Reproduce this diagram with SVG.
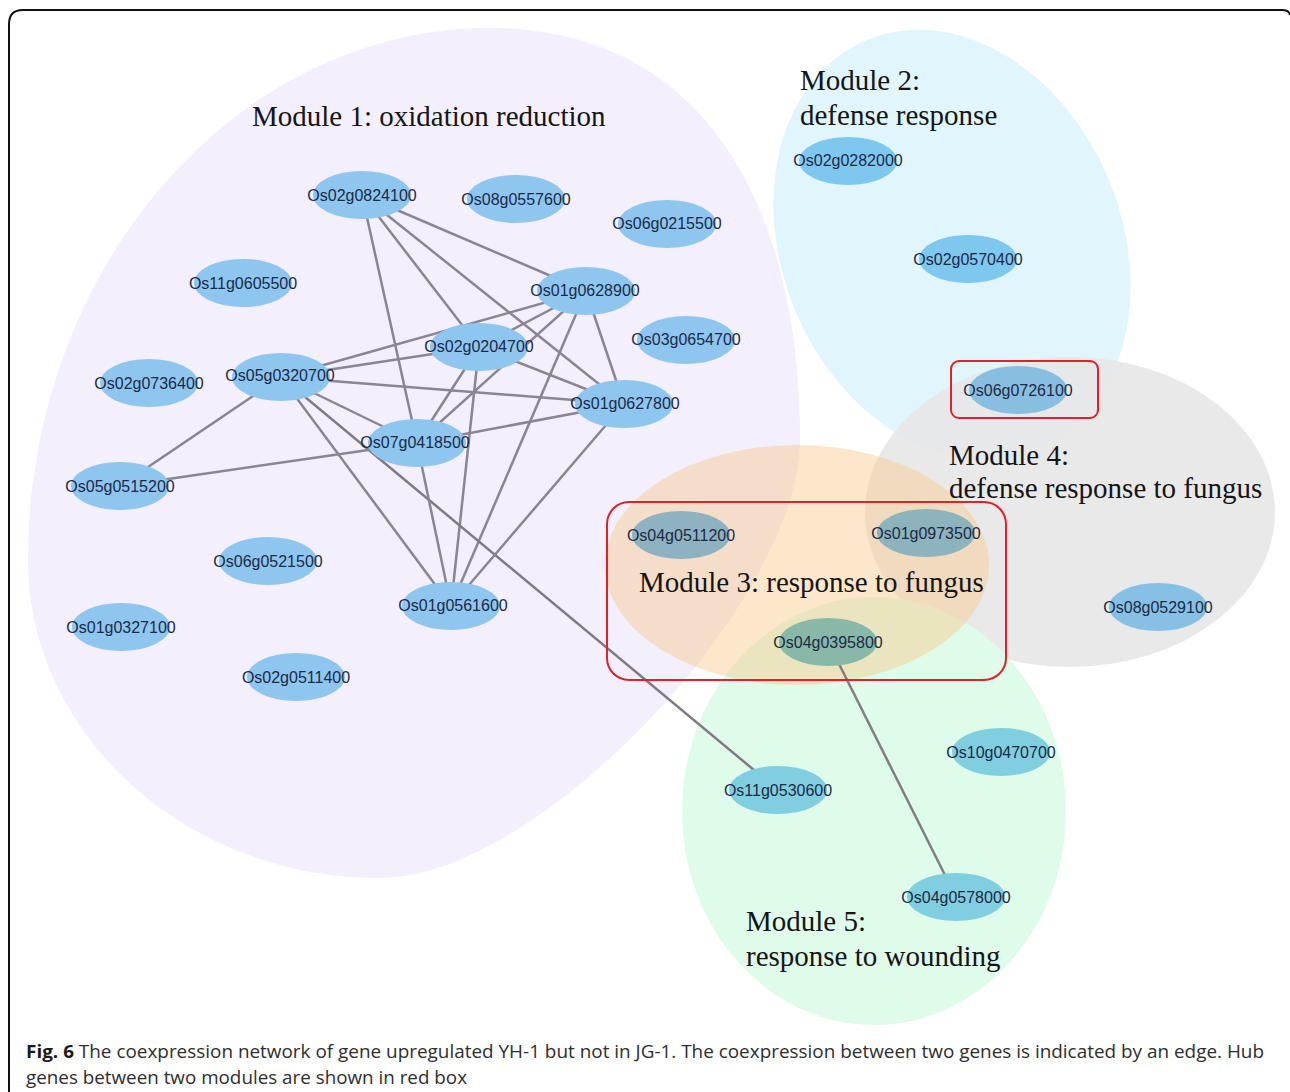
<svg xmlns="http://www.w3.org/2000/svg" width="1290" height="1092" viewBox="0 0 1290 1092">
<style>
.node ellipse{stroke:none}
.node text{font-family:"Liberation Sans",Arial,sans-serif;font-size:16px;fill:#1b2a47;text-anchor:middle}
.m1 ellipse{fill:#8ec6f0}
.m2 ellipse{fill:#7ec8ef}
.m5 ellipse{fill:#80cfe0}
.edge{stroke:#8b8592;stroke-width:2.5;fill:none}
.mlabel{font-family:"Liberation Serif","Times New Roman",serif;font-size:29px;fill:#151515}
.hub{fill:none;stroke:#e0202a;stroke-width:2}
.cap{font-family:"Open Sans","Liberation Sans",sans-serif;font-size:18px;fill:#2e2e2e}
</style>
<rect width="1290" height="1092" fill="#ffffff"/>

<g id="modules">
<path id="module1-area" d="M490,28 C700,28 800,200 800,440 C800,600 540,878 380,878 C186,878 28,735 28,560 C28,267 236,28 490,28 Z" fill="#f3effc"/>
<ellipse id="module2-area" cx="952" cy="245" rx="170" ry="222" transform="rotate(-22.5 952 245)" fill="#e1f5fc"/>
<ellipse id="module4-area" cx="1070" cy="512" rx="205" ry="155" fill="#e6e6e6" opacity="0.88"/>
<ellipse id="module5-area" cx="874" cy="811" rx="192" ry="214" fill="#dffbe9"/>
<ellipse id="module3-area" cx="797" cy="565" rx="192" ry="120" fill="#f9c98c" opacity="0.45"/>
</g>

<g id="connectors">
<line class="edge" x1="362" y1="195" x2="417" y2="443"/>
<line class="edge" x1="362" y1="195" x2="479" y2="347"/>
<line class="edge" x1="362" y1="195" x2="624" y2="404"/>
<line class="edge" x1="362" y1="195" x2="586" y2="291"/>
<line class="edge" x1="586" y1="291" x2="281" y2="377"/>
<line class="edge" x1="586" y1="291" x2="479" y2="347"/>
<line class="edge" x1="586" y1="291" x2="417" y2="443"/>
<line class="edge" x1="586" y1="291" x2="451" y2="606"/>
<line class="edge" x1="586" y1="291" x2="624" y2="404"/>
<line class="edge" x1="479" y1="347" x2="281" y2="377"/>
<line class="edge" x1="479" y1="347" x2="624" y2="404"/>
<line class="edge" x1="479" y1="347" x2="417" y2="443"/>
<line class="edge" x1="479" y1="347" x2="451" y2="606"/>
<line class="edge" x1="281" y1="377" x2="624" y2="404"/>
<line class="edge" x1="281" y1="377" x2="417" y2="443"/>
<line class="edge" x1="281" y1="377" x2="120" y2="486"/>
<line class="edge" x1="281" y1="377" x2="451" y2="606"/>
<line class="edge" x1="281" y1="377" x2="778" y2="790" style="stroke:#807a86"/>
<line class="edge" x1="417" y1="443" x2="120" y2="486"/>
<line class="edge" x1="417" y1="443" x2="624" y2="404"/>
<line class="edge" x1="417" y1="443" x2="451" y2="606"/>
<line class="edge" x1="624" y1="404" x2="451" y2="606"/>
<line class="edge" x1="828" y1="642" x2="956" y2="897" style="stroke:#7f7f7f"/>
</g>

<g id="nodes">
<g id="Os02g0824100" class="node m1"><ellipse cx="362" cy="195" rx="49" ry="24"/><text x="362" y="201">Os02g0824100</text></g>
<g id="Os08g0557600" class="node m1"><ellipse cx="516" cy="199" rx="49" ry="24"/><text x="516" y="205">Os08g0557600</text></g>
<g id="Os06g0215500" class="node m1"><ellipse cx="667" cy="224" rx="49" ry="24"/><text x="667" y="229">Os06g0215500</text></g>
<g id="Os11g0605500" class="node m1"><ellipse cx="243" cy="283" rx="49" ry="24"/><text x="243" y="289">Os11g0605500</text></g>
<g id="Os01g0628900" class="node m1"><ellipse cx="586" cy="291" rx="49" ry="24"/><text x="585" y="296">Os01g0628900</text></g>
<g id="Os03g0654700" class="node m1"><ellipse cx="686" cy="340" rx="49" ry="24"/><text x="686" y="345">Os03g0654700</text></g>
<g id="Os02g0204700" class="node m1"><ellipse cx="479" cy="347" rx="49" ry="24"/><text x="479" y="352">Os02g0204700</text></g>
<g id="Os02g0736400" class="node m1"><ellipse cx="149" cy="383" rx="49" ry="24"/><text x="149" y="389">Os02g0736400</text></g>
<g id="Os05g0320700" class="node m1"><ellipse cx="281" cy="377" rx="49" ry="24"/><text x="280" y="381">Os05g0320700</text></g>
<g id="Os01g0627800" class="node m1"><ellipse cx="624" cy="404" rx="49" ry="24"/><text x="625" y="409">Os01g0627800</text></g>
<g id="Os07g0418500" class="node m1"><ellipse cx="417" cy="443" rx="49" ry="24"/><text x="415" y="448">Os07g0418500</text></g>
<g id="Os05g0515200" class="node m1"><ellipse cx="120" cy="486" rx="49" ry="24"/><text x="120" y="492">Os05g0515200</text></g>
<g id="Os06g0521500" class="node m1"><ellipse cx="268" cy="561" rx="49" ry="24"/><text x="268" y="567">Os06g0521500</text></g>
<g id="Os01g0561600" class="node m1"><ellipse cx="451" cy="606" rx="49" ry="24"/><text x="453" y="611">Os01g0561600</text></g>
<g id="Os01g0327100" class="node m1"><ellipse cx="121" cy="627" rx="49" ry="24"/><text x="121" y="633">Os01g0327100</text></g>
<g id="Os02g0511400" class="node m1"><ellipse cx="296" cy="677" rx="49" ry="24"/><text x="296" y="683">Os02g0511400</text></g>
<g id="Os02g0282000" class="node m2"><ellipse cx="848" cy="161" rx="49" ry="24"/><text x="848" y="166">Os02g0282000</text></g>
<g id="Os02g0570400" class="node m2"><ellipse cx="968" cy="259" rx="49" ry="24"/><text x="968" y="265">Os02g0570400</text></g>
<g id="Os06g0726100" class="node"><ellipse cx="1018" cy="390" rx="49" ry="24" fill="#88bfe0"/><text x="1018" y="396">Os06g0726100</text></g>
<g id="Os04g0511200" class="node"><ellipse cx="681" cy="535" rx="49" ry="24" fill="#8fb2c0"/><text x="681" y="541">Os04g0511200</text></g>
<g id="Os01g0973500" class="node"><ellipse cx="926" cy="533" rx="49" ry="24" fill="#8db3bc"/><text x="926" y="539">Os01g0973500</text></g>
<g id="Os04g0395800" class="node"><ellipse cx="828" cy="642" rx="49" ry="24" fill="#88b9a8"/><text x="828" y="648">Os04g0395800</text></g>
<g id="Os08g0529100" class="node"><ellipse cx="1158" cy="607" rx="49" ry="24" fill="#86c0e4"/><text x="1158" y="613">Os08g0529100</text></g>
<g id="Os10g0470700" class="node m5"><ellipse cx="1001" cy="752" rx="49" ry="24"/><text x="1001" y="758">Os10g0470700</text></g>
<g id="Os11g0530600" class="node m5"><ellipse cx="778" cy="790" rx="49" ry="24"/><text x="778" y="796">Os11g0530600</text></g>
<g id="Os04g0578000" class="node m5"><ellipse cx="956" cy="897" rx="49" ry="24"/><text x="956" y="903">Os04g0578000</text></g>
</g>

<g id="module-labels">
<text class="mlabel" x="252" y="126">Module 1: oxidation reduction</text>
<text class="mlabel" x="800" y="90">Module 2:</text>
<text class="mlabel" x="800" y="125">defense response</text>
<text class="mlabel" x="639" y="592">Module 3: response to fungus</text>
<text class="mlabel" x="949" y="465">Module 4:</text>
<text class="mlabel" x="949" y="498">defense response to fungus</text>
<text class="mlabel" x="746" y="931">Module 5:</text>
<text class="mlabel" x="746" y="966">response to wounding</text>
</g>

<g id="hub-boxes">
<rect class="hub" x="951" y="361" width="147" height="57" rx="8"/>
<rect class="hub" x="607" y="502" width="399" height="178" rx="22"/>
</g>

<g id="caption">
<text class="cap" x="26" y="1058" textLength="1238" lengthAdjust="spacingAndGlyphs"><tspan font-weight="bold" fill="#1a1a1a">Fig. 6</tspan> The coexpression network of gene upregulated YH-1 but not in JG-1. The coexpression between two genes is indicated by an edge. Hub</text>
<text class="cap" x="26" y="1084" textLength="441" lengthAdjust="spacingAndGlyphs">genes between two modules are shown in red box</text>
</g>

<path id="frame" d="M9,1092 V24 Q9,10 23,10 H1282 Q1289,10 1290,15" fill="none" stroke="#111" stroke-width="2"/>
</svg>
